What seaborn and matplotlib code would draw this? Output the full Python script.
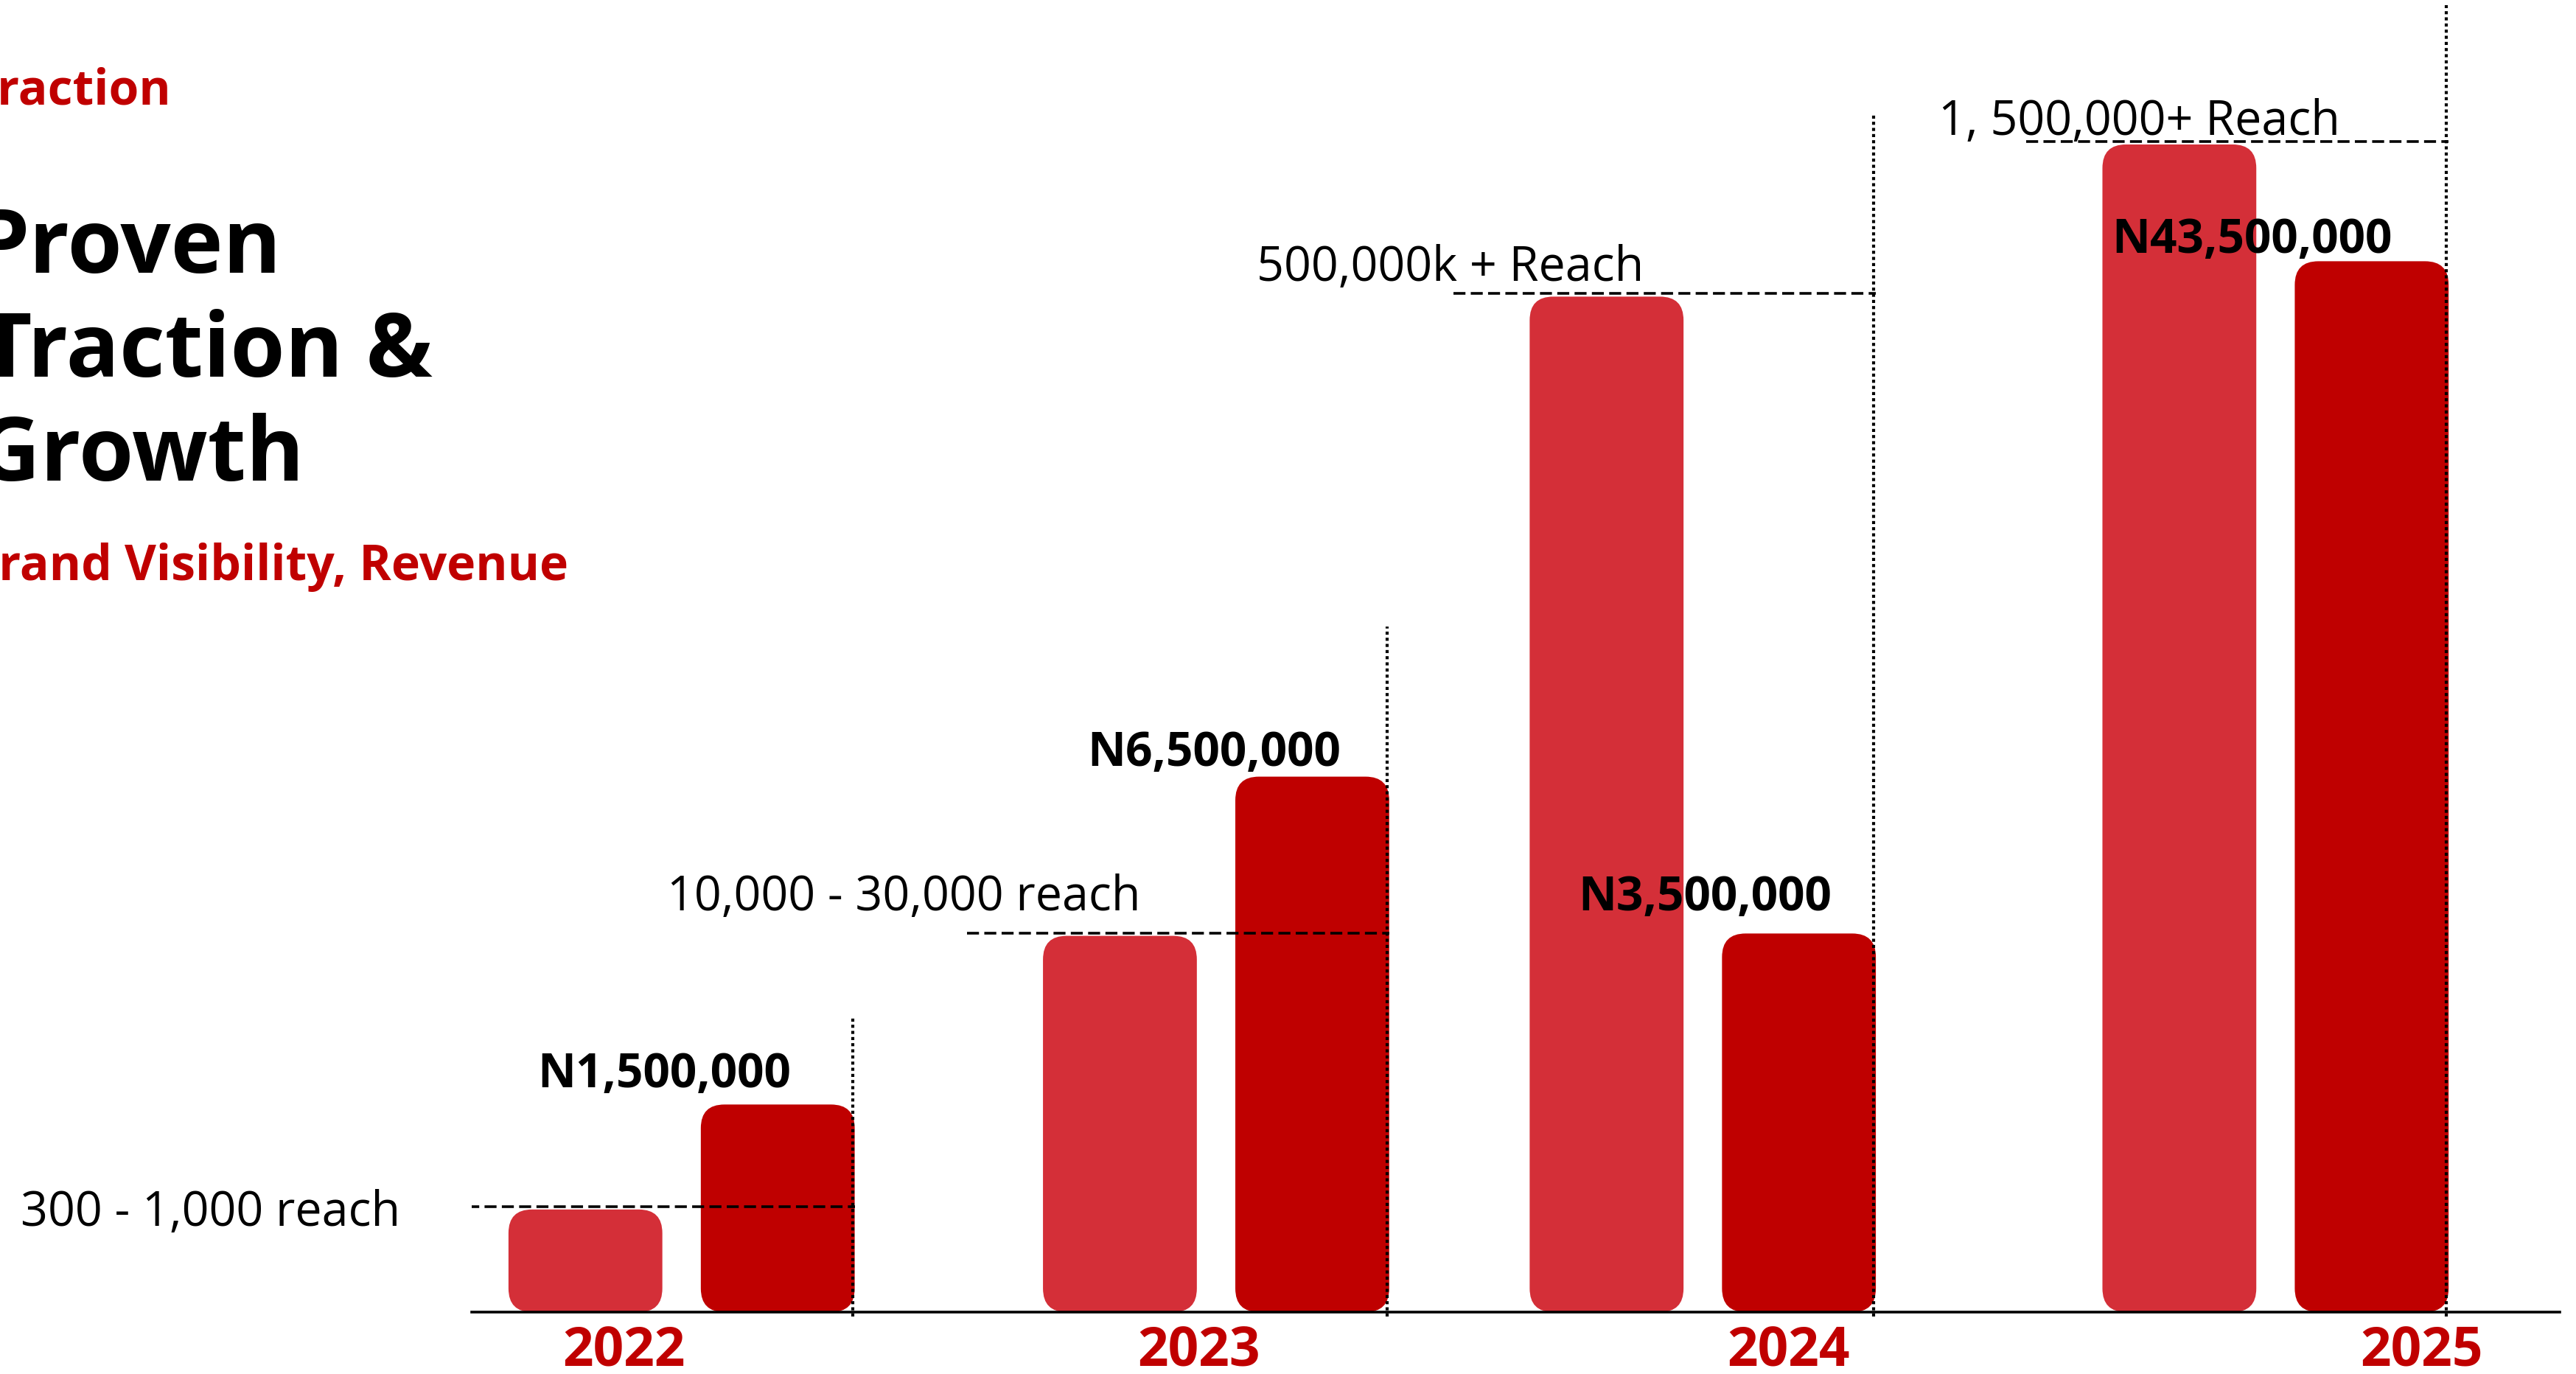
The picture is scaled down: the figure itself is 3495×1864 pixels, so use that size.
import matplotlib
matplotlib.use("Agg")
import pandas as pd
import matplotlib.pyplot as plt
import seaborn as sns
from matplotlib.patches import FancyBboxPatch

# chart values (bar heights in the slide's own relative units, no visible y axis)
years = ["2022", "2023", "2024", "2025"]
reach_height = [8.7, 31.9, 86.1, 99.0]
revenue_height = [17.6, 45.4, 32.1, 89.1]
reach_labels = ["300 - 1,000 reach", "10,000 - 30,000 reach", "500,000k + Reach", "1, 500,000+ Reach"]
revenue_labels = ["N1,500,000", "N6,500,000", "N3,500,000", "N43,500,000"]
guide_top = [25.1, 58.1, 101.6, 110.8]

# layout (slide positions of each year group and text offsets from its centre)
group_pos = [0.0, 1.006, 1.922, 3.0]
year_shift = [-0.108, -0.033, 0.161, 0.275]
value_dx = [-0.032, -0.004, 0.004, -0.044]
value_dy = [1.5, 1.0, 2.0, 0.8]
reach_text_dx = [-1.244, -1.033, -0.839, -0.634]
reach_text_dy = [-1.3, 2.2, 1.4, 0.9]

LIGHT = "#D42F38"
DARK = "#BF0000"
RED_TEXT = "#C00000"

df = pd.DataFrame({
    "slot": group_pos * 2,
    "series": ["Reach"] * 4 + ["Revenue"] * 4,
    "height": reach_height + revenue_height,
})

sns.set_style("white")
plt.rcParams["font.family"] = ["Open Sans", "DejaVu Sans"]

W, H = 3495, 1865
fig = plt.figure(figsize=(W / 100, H / 100), dpi=100)
fig.patch.set_facecolor("white")

ax_left, ax_right, base_y = 640, 3473, 1781
ax = fig.add_axes([ax_left / W, (H - base_y) / H, (ax_right - ax_left) / W, base_y / H])

min_step = min(b - a for a, b in zip(group_pos, group_pos[1:]))
sns.barplot(data=df, x="slot", y="height", hue="series", palette=[LIGHT, DARK],
            native_scale=True, width=0.724 / min_step, gap=0.2, saturation=1,
            legend=False, ax=ax)

ax.set_xlim(-0.395, 3.535)
ax.set_ylim(0, base_y / 16)

# turn plain bars into rounded ones
px_x = (ax_right - ax_left) / (3.535 + 0.395)
px_y = 16
r_px = 32
r_x = r_px / px_x
aspect = (r_px / px_y) / r_x

bars = []
for p in list(ax.patches):
    x, w, h = p.get_x(), p.get_width(), p.get_height()
    fc = p.get_facecolor()
    p.remove()
    rb = FancyBboxPatch((x, 0), w, h, boxstyle=f"round,pad=0,rounding_size={r_x}",
                        mutation_aspect=aspect, fc=fc, ec="none", zorder=2)
    ax.add_patch(rb)
    bars.append((x, w, h))
bars.sort(key=lambda b: b[0])

for i in range(len(years)):
    lx, lw_, lh = bars[2 * i]
    dx, dw, dh = bars[2 * i + 1]
    right = dx + dw
    c = group_pos[i]
    # dashed reach marker
    ax.plot([lx - 0.143, right], [reach_height[i] + 0.25] * 2, color="black",
            lw=2.6, dashes=(4.5, 2), zorder=3)
    # dotted guide at the right edge of the revenue bar
    ax.plot([right - 0.004] * 2, [-0.4, guide_top[i]], color="black", lw=3,
            ls=(0, (1, 1)), dash_capstyle="butt", clip_on=False, zorder=4)
    ax.text(c + value_dx[i], revenue_height[i] + value_dy[i], revenue_labels[i],
            ha="center", va="baseline", fontsize=46, fontweight="bold",
            color="black", zorder=5)
    ax.text(c + reach_text_dx[i], reach_height[i] + reach_text_dy[i], reach_labels[i],
            ha="left", va="baseline", fontsize=46.5, color="black", zorder=5)

ax.set_xticks([c + s for c, s in zip(group_pos, year_shift)])
ax.set_xticklabels(years, fontsize=52.5, fontweight="bold", color=RED_TEXT)
ax.tick_params(axis="x", length=0, pad=12)
ax.set_yticks([])
ax.set_xlabel("")
ax.set_ylabel("")
for s in ["top", "left", "right"]:
    ax.spines[s].set_visible(False)
ax.spines["bottom"].set_linewidth(2.6)
ax.spines["bottom"].set_color("black")
ax.set_facecolor("none")

# slide heading on the left (cropped at the slide edge as in the source)
fig.text(-38 / W, 1 - 142 / H, "Traction", fontsize=47.5, fontweight="bold",
         color=RED_TEXT, va="baseline")
for txt, x0, yb in [("Proven", -36, 370), ("Traction &", -26, 511), ("Growth", -32, 652)]:
    fig.text(x0 / W, 1 - yb / H, txt, fontsize=86.4, fontweight="bold",
             color="black", va="baseline")
fig.text(-46 / W, 1 - 787 / H, "Brand Visibility, Revenue", fontsize=47.5,
         fontweight="bold", color=RED_TEXT, va="baseline")

fig.savefig("out.png", dpi=100, facecolor="white")
